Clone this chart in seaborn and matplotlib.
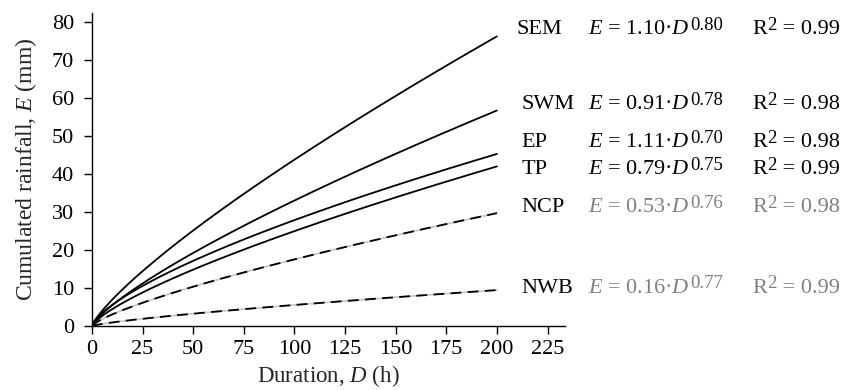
import numpy as np
import pandas as pd
import matplotlib
matplotlib.use("Agg")
import matplotlib.pyplot as plt
import seaborn as sns

# Power-law fits E = a * D^b for each climate region
regions = ["SEM", "SWM", "EP", "TP", "NCP", "NWB"]
coef_a = [1.10, 0.91, 1.11, 0.79, 0.53, 0.16]
coef_b = [0.80, 0.78, 0.70, 0.75, 0.76, 0.77]
r_squared = [0.99, 0.98, 0.98, 0.99, 0.98, 0.99]
dashed_regions = ["NCP", "NWB"]
x_ticks = [0, 25, 50, 75, 100, 125, 150, 175, 200, 225]
y_ticks = [0, 10, 20, 30, 40, 50, 60, 70, 80]

# label layout (data units)
label_y = [78.0, 58.2, 48.2, 41.1, 31.1, 10.0]
label_x = [209.5, 212.0, 212.0, 212.0, 212.0, 212.0]
eq_x = 245.0
r2_x = 326.0

sns.set_style("ticks")
plt.rcParams["font.family"] = ["Liberation Serif", "DejaVu Serif"]
plt.rcParams["mathtext.fontset"] = "custom"
plt.rcParams["mathtext.rm"] = "Liberation Serif"
plt.rcParams["mathtext.it"] = "Liberation Serif:italic"
plt.rcParams["font.size"] = 16

FS = 16
SUP = 13.5

duration = np.linspace(0, 200, 401)
frames = []
for name, a, b in zip(regions, coef_a, coef_b):
    frames.append(pd.DataFrame({"D": duration, "E": a * duration ** b, "region": name}))
df = pd.concat(frames, ignore_index=True)

fig = plt.figure(figsize=(8.46, 3.90), dpi=100)
ax = fig.add_axes([0.1087, 0.164, 0.668 - 0.1087, 0.9667 - 0.164])

solid = df[~df["region"].isin(dashed_regions)]
dashed = df[df["region"].isin(dashed_regions)]

sns.lineplot(data=solid, x="D", y="E", units="region", estimator=None,
             color="black", lw=1.3, ax=ax)
# dashed curves sit over a pale solid trace
sns.lineplot(data=dashed, x="D", y="E", units="region", estimator=None,
             color="#c8c8c8", lw=1.3, ax=ax)
sns.lineplot(data=dashed, x="D", y="E", units="region", estimator=None,
             color="black", lw=1.3, ax=ax)
for line in ax.lines[-2:]:
    line.set_dashes([6, 3.5])

ax.set_xlim(0, 233.7)
ax.set_ylim(0, 82.4)
ax.set_xticks(x_ticks)
ax.set_yticks(y_ticks)
ax.tick_params(direction="out", length=6, width=1.0, labelsize=FS, colors="black")
ax.tick_params(axis="y", pad=7)
ax.tick_params(axis="x", pad=4)
for side in ["left", "bottom"]:
    ax.spines[side].set_linewidth(1.0)
    ax.spines[side].set_color("black")
sns.despine(ax=ax)

ax.set_xlabel("Duration, $D$ (h)", fontsize=16.5, labelpad=3)
ax.set_ylabel("Cumulated rainfall, $E$ (mm)", fontsize=17, labelpad=9)


def with_superscript(x, y, base, sup, tail, color):
    """Write base text, a raised superscript, then an optional tail."""
    t1 = ax.text(x, y, base, fontsize=FS, va="center", ha="left",
                 color=color, clip_on=False)
    t2 = ax.annotate(sup, xy=(1, 1), xycoords=t1, xytext=(0.5, 2.5),
                     textcoords="offset points", fontsize=SUP,
                     va="top", ha="left", color=color, annotation_clip=False)
    if tail:
        ax.annotate(tail, xy=(1, 0), xycoords=(t2, t1), fontsize=FS,
                    va="bottom", ha="left", color=color, annotation_clip=False)


for i, name in enumerate(regions):
    col = "#808080" if name in dashed_regions else "black"
    ax.text(label_x[i], label_y[i], name, fontsize=FS, va="center", ha="left",
            color="black", clip_on=False)
    with_superscript(eq_x, label_y[i], f"$E$ = {coef_a[i]:.2f}·$D$",
                     f"{coef_b[i]:.2f}", "", col)
    with_superscript(r2_x, label_y[i], "R", "2", f" = {r_squared[i]:.2f}", col)

fig.savefig("out.png", dpi=100)
